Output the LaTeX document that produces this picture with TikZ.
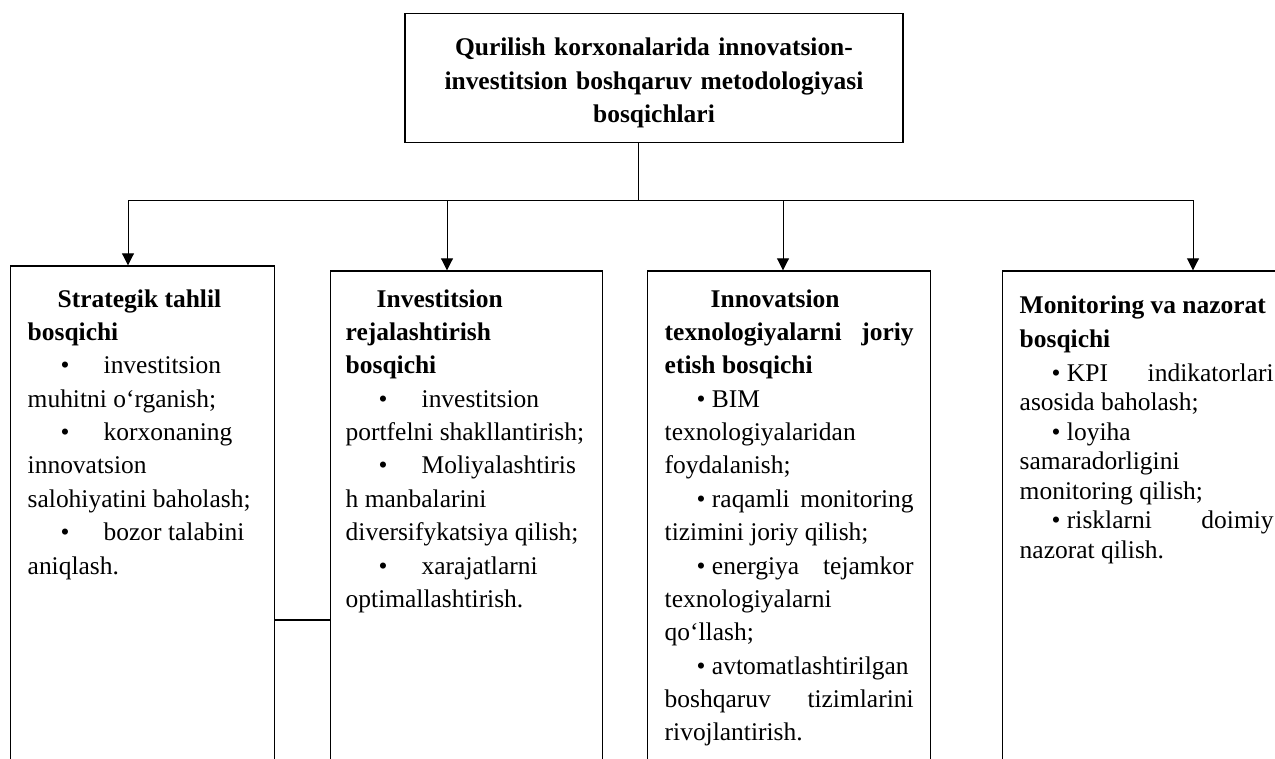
\documentclass[tikz,border=0pt]{standalone}
\usepackage{fontspec}
\setmainfont{Liberation Serif}
\usepackage{tikz}
\usetikzlibrary{arrows.meta, positioning}

\newcommand{\tabbul}{\hspace*{0.66cm}\makebox[0.86cm][l]{\textbullet}}
\newcommand{\spbul}{\hspace*{0.64cm}\textbullet\ }

\begin{document}
\hyphenpenalty=10000
\begin{tikzpicture}[x=0.02cm, y=-0.02cm,
    font=\fontsize{14.5pt}{19pt}\selectfont,
    titlebox/.style={draw, line width=0.8pt, anchor=north, minimum width=9.96cm,
      text width=9.6cm, align=center, inner sep=0pt, text height=0.84cm, text depth=1.74cm,
      font=\fontsize{14.5pt}{19pt}\selectfont\bfseries},
    stagebox/.style={draw, line width=0.8pt, anchor=base west, inner ysep=0pt,
      inner xsep=0.34cm, align=flush left, text depth=9.5cm},
    busline/.style={line width=0.5pt},
    arr/.style={busline, -{Triangle[width=6.8pt, length=6.8pt]}}]
  \useasboundingbox (0,0) rectangle (1275,758);
  \clip (0,0) rectangle (1275,758);

  \node[titlebox] (title) at (654,13)
    {Qurilish korxonalarida innovatsion-\\ investitsion boshqaruv metodologiyasi\\ bosqichlari};

  \node[stagebox, text width=4.6cm, text height=0.82cm] (strat) at (10,307) {%
    \hspace*{0.6cm}\textbf{Strategik tahlil}\\
    \textbf{bosqichi}\\
    \tabbul investitsion\\
    muhitni o‘rganish;\\
    \tabbul korxonaning\\
    innovatsion\\
    salohiyatini baholash;\\
    \tabbul bozor talabini\\
    aniqlash.};
  \node[stagebox, inner xsep=0.3cm, text width=4.84cm, text height=0.72cm] (invest) at (330,307) {%
    \hspace*{0.62cm}\textbf{Investitsion}\\
    \textbf{rejalashtirish}\\
    \textbf{bosqichi}\\
    \tabbul investitsion\\
    portfelni shakllantirish;\\
    \tabbul Moliyalashtiris\\
    h manbalarini\\
    diversifykatsiya qilish;\\
    \tabbul xarajatlarni\\
    optimallashtirish.};
  \node[stagebox, text width=4.98cm, text height=0.72cm] (innov) at (647,307) {%
    \hspace*{0.92cm}\textbf{Innovatsion}\\
    \textbf{texnologiyalarni\hfill joriy}\\
    \textbf{etish bosqichi}\\
    \spbul BIM\\
    texnologiyalaridan\\
    foydalanish;\\
    \spbul raqamli\hfill monitoring\\
    tizimini joriy qilish;\\
    \spbul energiya\hfill tejamkor\\
    texnologiyalarni\\
    qo‘llash;\\
    \spbul avtomatlashtirilgan\\
    boshqaruv\hfill tizimlarini\\
    rivojlantirish.};
  \node[stagebox, text width=5.08cm, text height=0.84cm,
    font=\fontsize{14.5pt}{16.8pt}\selectfont] (monit) at (1002,313) {%
    \textbf{Monitoring va nazorat}\\[2.6pt]
    \textbf{bosqichi}\\[2.6pt]
    \spbul KPI\hfill indikatorlari\\
    asosida baholash;\\
    \spbul loyiha\\
    samaradorligini\\
    monitoring qilish;\\
    \spbul risklarni\hfill doimiy\\
    nazorat qilish.};

  % bus from the title down to the four stages
  \coordinate (hub) at (638,200);
  \coordinate (b1) at (128,200);
  \coordinate (b2) at (447,200);
  \coordinate (b3) at (783,200);
  \coordinate (b4) at (1193,200);
  \draw[busline] (title.south -| hub) -- (hub);
  \draw[busline] (b1) -- (b4);
  \draw[arr] (b1) -- (b1 |- strat.north);
  \draw[arr] (b2) -- (b2 |- invest.north);
  \draw[arr] (b3) -- (b3 |- innov.north);
  \draw[arr] (b4) -- (b4 |- monit.north);

  \coordinate (lk) at (300,620);
  \draw[busline, line width=0.7pt] (strat.east |- lk) -- (invest.west |- lk);
\end{tikzpicture}
\end{document}
